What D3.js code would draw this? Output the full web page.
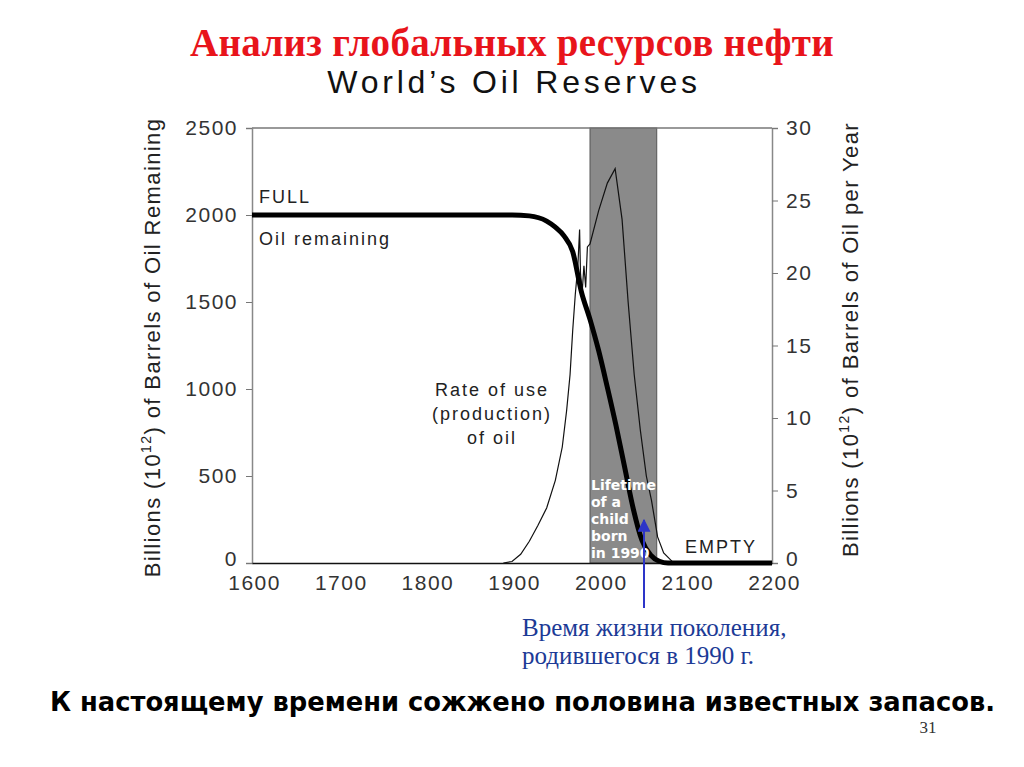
<!DOCTYPE html>
<html>
<head>
<meta charset="utf-8">
<script src="https://cdn.jsdelivr.net/npm/d3@7"></script>
<style>
  body { margin: 0; background: #fff; }
  svg text { font-family: "Liberation Sans", Arial, sans-serif; }
</style>
</head>
<body>
<div id="chart"></div>
<script>
// data
const remainingYears = [1600, 1900, 1920, 1940, 1950, 1960, 1970, 1980, 1990, 2000, 2010, 2020, 2030, 2040, 2050, 2060, 2070, 2080, 2200];
const remainingValues = [2000, 2000, 1995, 1965, 1930, 1880, 1790, 1560, 1400, 1220, 1010, 790, 550, 310, 130, 45, 10, 0, 0];

const rateYears = [1890, 1900, 1910, 1920, 1930, 1940, 1950, 1958, 1963, 1967, 1970, 1973, 1976, 1978, 1979, 1981, 1983, 1985, 1987, 1990, 2000, 2010, 2019, 2027, 2034, 2041, 2048, 2055, 2061, 2068, 2075, 2085, 2090, 2200];
const rateValues = [0, 0.1, 0.6, 1.5, 2.6, 3.8, 5.7, 8, 10.5, 13, 16, 18.5, 20.5, 23, 20, 18.7, 20.5, 19, 21.8, 22, 24.3, 26.2, 27.2, 23.7, 18, 13, 9.2, 6, 4.3, 1.8, 0.7, 0.1, 0, 0];

const lifetimeBand = [1990, 2067];
const leftTicks = [0, 500, 1000, 1500, 2000, 2500];
const rightTicks = [0, 5, 10, 15, 20, 25, 30];
const yearTicks = [1600, 1700, 1800, 1900, 2000, 2100, 2200];

const width = 1024, height = 767;
const margin = { top: 128, right: 252, bottom: 204, left: 252 };

const svg = d3.select('#chart').append('svg')
  .attr('width', width)
  .attr('height', height);

const x = d3.scaleLinear().domain([1600, 2200]).range([margin.left, width - margin.right]);
const yL = d3.scaleLinear().domain([0, 2500]).range([height - margin.bottom, margin.top]);
const yR = d3.scaleLinear().domain([0, 30]).range([height - margin.bottom, margin.top]);

// titles
svg.append('text')
  .attr('x', 512).attr('y', 56)
  .attr('text-anchor', 'middle')
  .style('font-family', '"Liberation Serif", "Times New Roman", serif')
  .style('font-weight', 'bold')
  .style('font-size', '39px')
  .style('letter-spacing', '0.3px')
  .attr('fill', '#e8141b')
  .text('Анализ глобальных ресурсов нефти');

svg.append('text')
  .attr('x', 514).attr('y', 93)
  .attr('text-anchor', 'middle')
  .style('font-size', '32px')
  .style('letter-spacing', '3.8px')
  .attr('fill', '#111')
  .text('World\u2019s Oil Reserves');

// gray band for the lifetime
svg.append('rect')
  .attr('x', x(lifetimeBand[0]))
  .attr('y', yL(2500))
  .attr('width', x(lifetimeBand[1]) - x(lifetimeBand[0]))
  .attr('height', yL(0) - yL(2500))
  .attr('fill', '#8a8a8a')
  .attr('stroke', '#555')
  .attr('stroke-width', 1);

// frame top
svg.append('line')
  .attr('x1', x(1600)).attr('x2', x(2200))
  .attr('y1', yL(2500)).attr('y2', yL(2500))
  .attr('stroke', '#777').attr('stroke-width', 1.5);

// axes
const axisL = svg.append('g')
  .attr('transform', `translate(${margin.left},0)`)
  .call(d3.axisLeft(yL).tickValues(leftTicks).tickFormat(d3.format('d')).tickSize(6).tickPadding(8));
const axisR = svg.append('g')
  .attr('transform', `translate(${width - margin.right},0)`)
  .call(d3.axisRight(yR).tickValues(rightTicks).tickSize(6).tickPadding(8));
const axisB = svg.append('g')
  .attr('transform', `translate(0,${height - margin.bottom})`)
  .call(d3.axisBottom(x).tickValues(yearTicks).tickFormat(d3.format('d')).tickSize(0).tickPadding(12));

[axisL, axisR].forEach(a => {
  a.select('.domain').attr('stroke', '#888').attr('stroke-width', 1.5);
  a.selectAll('.tick line').attr('stroke', '#777');
});
axisB.select('.domain').attr('stroke', '#111').attr('stroke-width', 1.5);
[axisL, axisR, axisB].forEach(a => {
  a.selectAll('.tick text')
    .style('font-family', '"Liberation Sans", Arial, sans-serif')
    .style('font-size', '21px')
    .style('letter-spacing', '1.5px')
    .attr('fill', '#333');
});
axisB.selectAll('.tick text').attr('dx', '0.1em');
// the zero labels sit a little higher than the year labels
axisL.selectAll('.tick text').filter(d => d === 0).attr('dy', '0.1em');
axisR.selectAll('.tick text').filter(d => d === 0).attr('dy', '0.1em');

// axis titles
const axisTitle = (tx, ty, rest) => svg.append('text')
  .attr('transform', `translate(${tx},${ty}) rotate(-90)`)
  .attr('text-anchor', 'middle')
  .style('font-size', '22px')
  .style('letter-spacing', '1.4px')
  .attr('fill', '#222')
  .call(t => {
    t.append('tspan').text('Billions (10');
    t.append('tspan').attr('dy', -9).style('font-size', '14px').text('12');
    t.append('tspan').attr('dy', 9).text(rest);
  });
axisTitle(160, (yL(0) + yL(2500)) / 2 + 2, ') of Barrels of Oil Remaining');
axisTitle(858, (yL(0) + yL(2500)) / 2 - 6, ') of Barrels of Oil per Year');

// rate of use line (right axis)
const rateLine = d3.line()
  .x((d, i) => x(rateYears[i]))
  .y(d => yR(d));
svg.append('path')
  .datum(rateValues)
  .attr('d', rateLine)
  .attr('fill', 'none')
  .attr('stroke', '#111')
  .attr('stroke-width', 1.2);

// oil remaining (left axis)
const remLine = d3.line()
  .curve(d3.curveMonotoneX)
  .x((d, i) => x(remainingYears[i]))
  .y(d => yL(d));
svg.append('path')
  .datum(remainingValues)
  .attr('d', remLine)
  .attr('fill', 'none')
  .attr('stroke', '#000')
  .attr('stroke-width', 5);

// labels in the plot
const lbl = (tx, ty, s, anchor) => svg.append('text')
  .attr('x', tx).attr('y', ty)
  .attr('text-anchor', anchor || 'start')
  .style('font-size', '18px')
  .style('letter-spacing', '2px')
  .attr('fill', '#222')
  .text(s);
lbl(259, 203, 'FULL');
lbl(259, 245, 'Oil remaining');
lbl(492, 396, 'Rate of use', 'middle');
lbl(492, 420, '(production)', 'middle');
lbl(492, 444, 'of oil', 'middle');
lbl(685, 553, 'EMPTY');

['Lifetime', 'of a', 'child', 'born', 'in 1990'].forEach((s, i) => {
  svg.append('text')
    .attr('x', x(lifetimeBand[0]) + 1)
    .attr('y', 490 + i * 17)
    .style('font-family', '"DejaVu Sans", Verdana, sans-serif')
    .style('font-weight', 'bold')
    .style('font-size', '14px')
    .attr('fill', '#fff')
    .text(s);
});

// blue arrow
svg.append('defs').append('marker')
  .attr('id', 'arr')
  .attr('viewBox', '0 0 10 10')
  .attr('refX', 9).attr('refY', 5)
  .attr('markerWidth', 6.5).attr('markerHeight', 6.5)
  .attr('markerUnits', 'strokeWidth')
  .attr('orient', 'auto')
  .append('path').attr('d', 'M0,0L10,5L0,10z').attr('fill', '#2d35c8');
svg.append('line')
  .attr('x1', 644).attr('y1', 608)
  .attr('x2', 644).attr('y2', 520)
  .attr('stroke', '#2d35c8')
  .attr('stroke-width', 2)
  .attr('marker-end', 'url(#arr)');

const blue = (ty, s) => svg.append('text')
  .attr('x', 522).attr('y', ty)
  .style('font-family', '"Liberation Serif", "Times New Roman", serif')
  .style('font-size', '25px')
  .attr('fill', '#1c3a96')
  .text(s);
blue(636, 'Время жизни поколения,');
blue(664, 'родившегося в 1990 г.');

svg.append('text')
  .attr('x', 50).attr('y', 711)
  .attr('textLength', 945)
  .attr('lengthAdjust', 'spacingAndGlyphs')
  .style('font-family', '"DejaVu Sans Condensed", "DejaVu Sans", sans-serif')
  .style('font-weight', 'bold')
  .style('font-size', '27px')
  .attr('fill', '#000')
  .text('К настоящему времени сожжено половина известных запасов.');

svg.append('text')
  .attr('x', 928).attr('y', 733)
  .attr('text-anchor', 'middle')
  .style('font-family', '"Liberation Serif", "Times New Roman", serif')
  .style('font-size', '17px')
  .attr('fill', '#333')
  .text('31');
</script>
</body>
</html>
